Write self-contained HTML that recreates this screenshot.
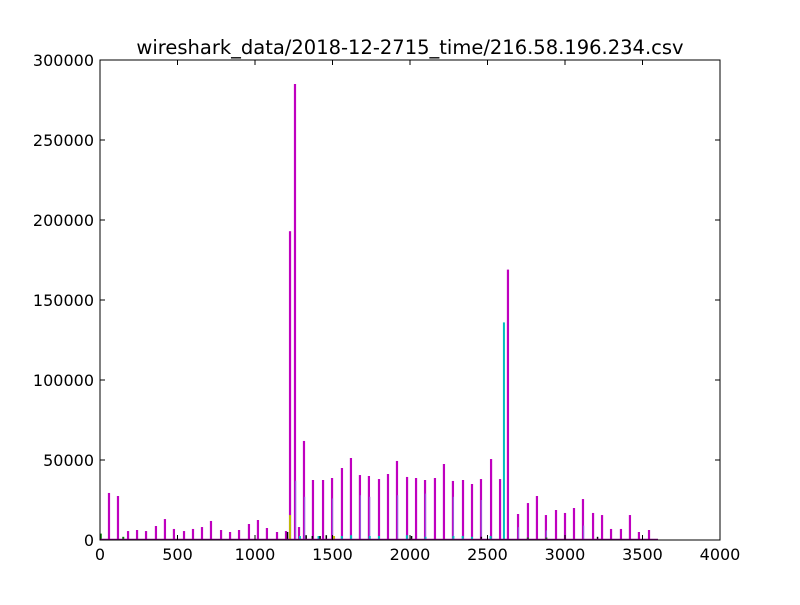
<!DOCTYPE html>
<html><head><meta charset="utf-8"><style>
body{margin:0;background:#fff;}
svg text{font-family:"DejaVu Sans","Liberation Sans",sans-serif;}
</style></head><body>
<svg id="chart" width="800" height="600" xmlns="http://www.w3.org/2000/svg">
<rect x="0" y="0" width="800" height="600" fill="#fff"/>
<text x="410" y="54" text-anchor="middle" font-size="19.5">wireshark_data/2018-12-2715_time/216.58.196.234.csv</text>
<g id="marks"></g>
<g id="axes"></g>
</svg>
<script>
const magentaX=[58,116,181,239,297,361,419,477,542,600,658,716,781,839,897,961,1019,1077,1142,1200,1226,1258,1284,1316,1374,1439,1497,1561,1619,1677,1735,1800,1858,1916,1981,2039,2097,2161,2219,2277,2342,2400,2458,2523,2581,2632,2697,2761,2819,2877,2942,3000,3058,3116,3181,3239,3297,3361,3419,3477,3542];
const magentaV=[29400,27500,5600,6250,5600,8750,13100,6900,5600,6900,8100,11900,6250,5000,6250,10000,12500,7500,5000,5600,193000,285000,8100,61900,37500,37500,38750,45000,51250,40600,40000,38100,41250,49400,39400,38750,37500,38750,47500,36900,37500,35000,38100,50600,38100,169000,16250,23100,27500,15600,18750,16900,20000,25600,16900,15600,6900,6900,15600,5000,6250];
const violetX=[1262,1320,1500,1680,1740,1920,2100,2280,2460,2700,2880,3120];
const violetV=[37000,27000,26000,28000,27000,28000,29000,27000,25000,8000,6000,9000];
const cyanX=[2606,1290,1410,1560,1620,1740,1800,1980,2100,2280,2340,2400,2520];
const cyanV=[136000,2500,2500,2500,3000,2500,2500,3000,2000,2500,2500,2000,2500];
const blackX=[1210,1330,1370,1420,1460,2010,2460,3210];
const blackV=[5000,3000,2500,2500,3000,2500,2000,2000];
const yellowX=[1226,1510];
const yellowV=[15600,2500];
const greenX=[5,150,2760,2880];
const greenV=[4000,2000,1500,1500];
const xTicks=[0,500,1000,1500,2000,2500,3000,3500,4000];
const yTicks=[0,50000,100000,150000,200000,250000,300000];
const X0=100,X1=720,Y0=540,Y1=60,XMAX=4000,YMAX=300000;
const xs=v=>X0+v/XMAX*(X1-X0);
const ys=v=>Y0-v/YMAX*(Y0-Y1);
const NS='http://www.w3.org/2000/svg';
const marks=document.getElementById('marks');
const axes=document.getElementById('axes');
function mk(tag,attrs,parent){const e=document.createElementNS(NS,tag);for(const k in attrs)e.setAttribute(k,attrs[k]);parent.appendChild(e);return e;}
function bars(X,V,color,name,w){
  X.forEach((x,i)=>{
    const r=mk('rect',{x:xs(x)-w/2,y:ys(V[i]),width:w,height:Y0-ys(V[i]),fill:color},marks);
    
    
  });
}
bars(magentaX,magentaV,'#bf00bf','magenta',2.2);
bars(violetX,violetV,'#9955dd','violet',1.2);
bars(cyanX,cyanV,'#00bfbf','cyan',2);
bars(blackX,blackV,'#000','black',1.5);
bars(yellowX,yellowV,'#bfbf00','yellow',2);
bars(greenX,greenV,'#008000','green',2);
const base=mk('line',{x1:xs(0),x2:xs(3600),y1:Y0-0.5,y2:Y0-0.5,stroke:'#800080','stroke-width':1.5},marks);


const frame=mk('rect',{x:X0,y:Y1,width:X1-X0,height:Y0-Y1,fill:'none',stroke:'#000','stroke-width':1},axes);


xTicks.forEach(t=>{
  const x=xs(t);
  mk('line',{x1:x,x2:x,y1:Y0,y2:Y0-5,stroke:'#000'},axes);
  mk('line',{x1:x,x2:x,y1:Y1,y2:Y1+5,stroke:'#000'},axes);
  const tx=mk('text',{x:x,y:Y0+20,'text-anchor':'middle','font-size':16},axes);
  tx.textContent=t;
  
  
});
yTicks.forEach(t=>{
  const y=ys(t);
  mk('line',{x1:X0,x2:X0+5,y1:y,y2:y,stroke:'#000'},axes);
  mk('line',{x1:X1,x2:X1-5,y1:y,y2:y,stroke:'#000'},axes);
  const tx=mk('text',{x:X0-6,y:y+6,'text-anchor':'end','font-size':16},axes);
  tx.textContent=t;
  
  
});
</script>
</body></html>
